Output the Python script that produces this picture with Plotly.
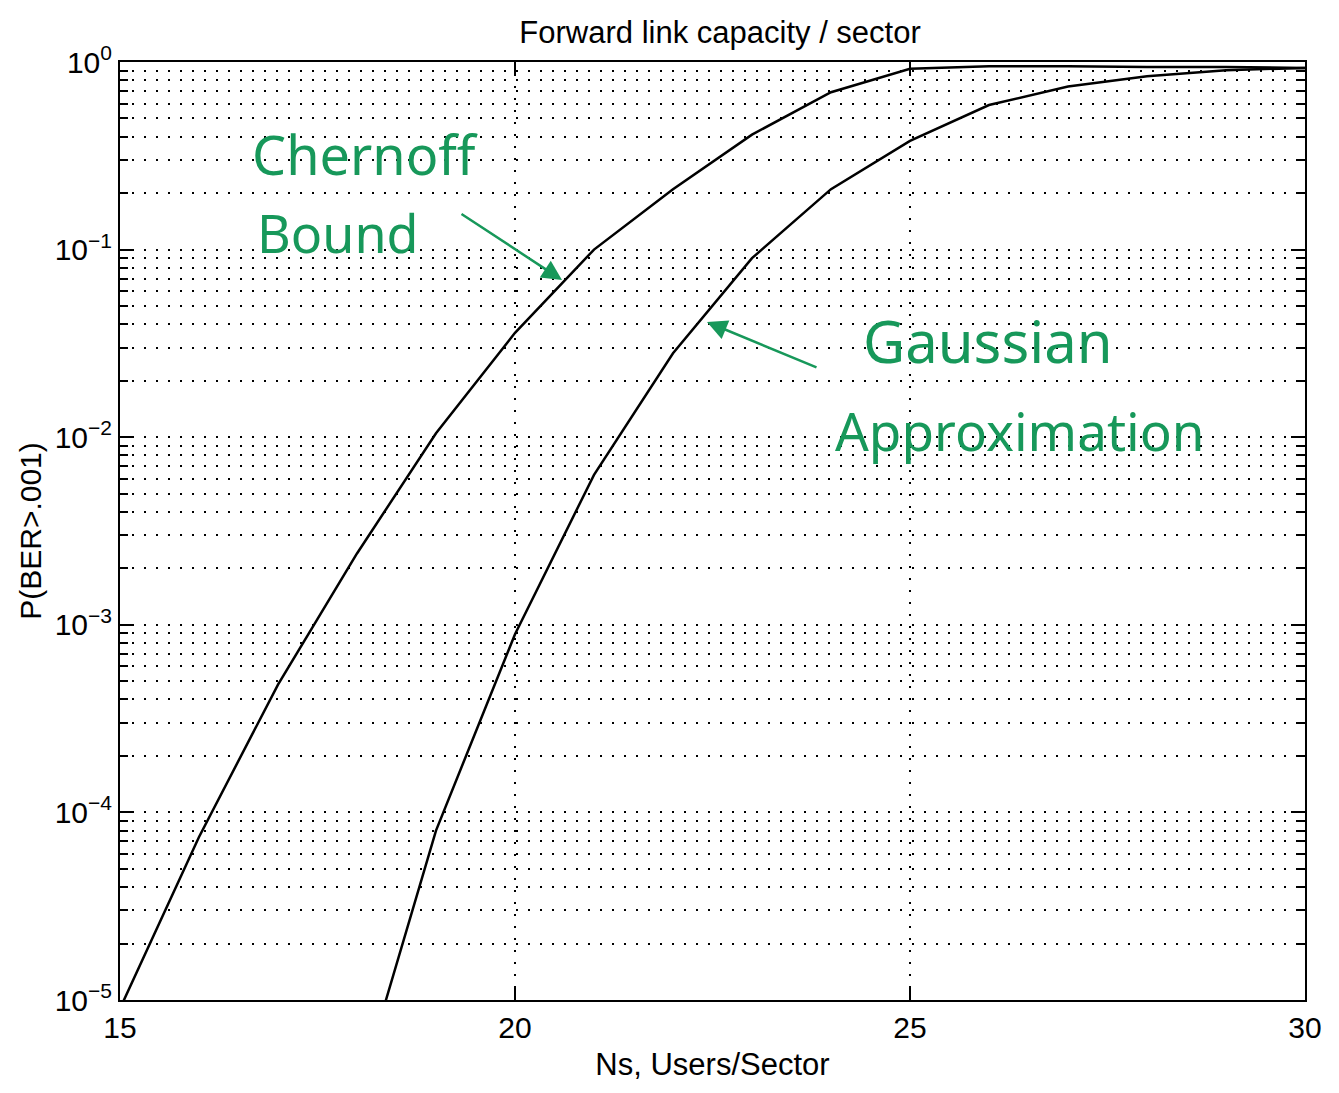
import plotly.graph_objects as go

# Data
ns = [15, 16, 17, 18, 19, 20, 21, 22, 23, 24, 25, 26, 27, 28, 29, 30]
chernoff = [9e-6, 7.4e-5, 4.8e-4, 2.4e-3, 1.05e-2, 3.6e-2, 0.10, 0.21, 0.41, 0.69, 0.92,
            0.95, 0.95, 0.94, 0.94, 0.93]
gaussian = [None, None, None, 3e-6, 8e-5, 8.9e-4, 6.3e-3, 2.8e-2, 0.090, 0.21, 0.38,
            0.59, 0.74, 0.84, 0.905, 0.93]

x_ticks = [15, 20, 25, 30]
y_ticks = [1e-5, 1e-4, 1e-3, 1e-2, 1e-1, 1]
y_ticktext = ["10<sup>−5</sup>", "10<sup>−4</sup>", "10<sup>−3</sup>",
              "10<sup>−2</sup>", "10<sup>−1</sup>", "10<sup>0</sup>"]
y_minor = [m * 10.0 ** e for e in range(-5, 0) for m in range(2, 10)]

FONT = "Liberation Sans, Arial, sans-serif"
HAND = "Noto Sans, DejaVu Sans, sans-serif"
GREEN = "#17985a"

# page body has an 8px margin; target plot area in page pixels: x 120..1305, y 62..1000
OFF = 8
L, R, T, B = 120, 1305, 62, 1000
FW, FH = 1331, 1085

fig = go.Figure()
fig.add_trace(go.Scatter(x=ns, y=chernoff, mode="lines",
                         line=dict(color="black", width=2.5), showlegend=False))
fig.add_trace(go.Scatter(x=ns, y=gaussian, mode="lines",
                         line=dict(color="black", width=2.5), showlegend=False))

fig.update_layout(
    width=FW, height=FH,
    margin=dict(l=L - OFF, r=FW - (R - OFF), t=T - OFF, b=FH - (B - OFF)),
    paper_bgcolor="white", plot_bgcolor="white",
    font=dict(family=FONT, size=30, color="black"),
    title=dict(text="Forward link capacity / sector", x=0.535, xanchor="center",
               y=1 - (32 - OFF) / FH, yanchor="middle", font=dict(size=31)),
    showlegend=False,
)

fig.update_xaxes(
    range=[15, 30], tickmode="array", tickvals=x_ticks,
    ticks="inside", ticklen=12, tickwidth=2, tickcolor="black",
    showline=True, linewidth=2, linecolor="black", mirror="allticks",
    showgrid=True, gridcolor="black", gridwidth=1.5, griddash="2px,10px",
    zeroline=False,
    title=dict(text="Ns, Users/Sector", standoff=10, font=dict(size=31)),
    tickfont=dict(size=30),
)
fig.update_yaxes(
    type="log", range=[-5, 0], tickmode="array", tickvals=y_ticks, ticktext=y_ticktext,
    ticks="inside", ticklen=14, tickwidth=2, tickcolor="black",
    showline=True, linewidth=2, linecolor="black", mirror="allticks",
    showgrid=True, gridcolor="black", gridwidth=1.5, griddash="2px,10px",
    minor=dict(tickvals=y_minor, ticks="inside", ticklen=8, tickwidth=1.5,
               tickcolor="black", showgrid=True, gridcolor="black",
               gridwidth=1.5, griddash="2px,10px"),
    zeroline=False,
    title=dict(text="P(BER>.001)", standoff=4, font=dict(size=30)),
    tickfont=dict(size=30),
)

W = R - L
H = B - T


def px(xp, yp):
    return (xp - L) / W, (B - yp) / H


texts = [("Chernoff", 365, 154, 54), ("Bound", 338, 232, 52),
         ("Gaussian", 988, 340, 58), ("Approximation", 1020, 430, 53)]
for t, xp, yp, sz in texts:
    xx, yy = px(xp, yp)
    fig.add_annotation(text=t, x=xx, y=yy, xref="paper", yref="paper",
                       xanchor="center", yanchor="middle",
                       showarrow=False, font=dict(family=HAND, size=sz, color=GREEN))

# arrows
for (hx, hy, tx, ty) in [(562, 280, 460, 213), (707, 322, 818, 368)]:
    xx, yy = px(hx, hy)
    fig.add_annotation(text="", x=xx, y=yy, xref="paper", yref="paper",
                       ax=tx - hx, ay=ty - hy, showarrow=True, arrowhead=2,
                       arrowsize=1.6, arrowwidth=2.5, arrowcolor=GREEN)

fig.write_html("out.html")
